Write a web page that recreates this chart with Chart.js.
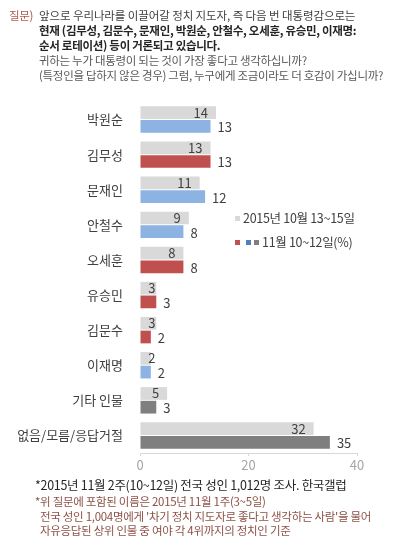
<!DOCTYPE html>
<html><head><meta charset="utf-8">
<script src="https://cdn.jsdelivr.net/npm/chart.js@4.4.0/dist/chart.umd.min.js"></script>
<style>
html,body{margin:0;padding:0;background:#fff;}
#wrap{position:relative;width:400px;height:556px;overflow:hidden;font-family:"Noto Sans CJK KR","Noto Sans",sans-serif;}
#c{position:absolute;left:0;top:0;}
.t{position:absolute;white-space:nowrap;font-size:11.5px;line-height:15px;letter-spacing:-0.3px;}
.sq{display:inline-block;width:5px;height:5px;margin-right:3px;vertical-align:middle;position:relative;top:-1px;}
</style></head><body>
<div id="wrap">
<canvas id="c" width="400" height="556"></canvas>
<div class="t" style="left:9px;top:8px;color:#b0564a;">질문)</div>
<div class="t" style="left:39px;top:8px;color:#404040;letter-spacing:-0.1px;">앞으로 우리나라를 이끌어갈 정치 지도자, 즉 다음 번 대통령감으로는</div>
<div class="t" style="left:39px;top:23px;color:#262626;font-weight:bold;">현재 (김무성, 김문수, 문재인, 박원순, 안철수, 오세훈, 유승민, 이재명:</div>
<div class="t" style="left:39px;top:38px;color:#262626;font-weight:bold;">순서 로테이션) 등이 거론되고 있습니다.</div>
<div class="t" style="left:39px;top:53px;color:#595959;">귀하는 누가 대통령이 되는 것이 가장 좋다고 생각하십니까?</div>
<div class="t" style="left:39px;top:68px;color:#595959;">(특정인을 답하지 않은 경우) 그럼, 누구에게 조금이라도 더 호감이 가십니까?</div>
<div class="t" style="left:235px;top:210px;color:#404040;font-size:12.5px;"><span class="sq" style="background:#d9d9d9"></span>2015년 10월 13~15일</div>
<div class="t" style="left:235px;top:234px;color:#404040;font-size:12.5px;"><span class="sq" style="background:#c0504d"></span><span class="sq" style="background:#4f81bd;margin-left:3px"></span><span class="sq" style="background:#7f7f7f"></span>11월 10~12일(%)</div>
<div class="t" style="left:35px;top:477px;color:#262626;font-size:12.5px;">*2015년 11월 2주(10~12일) 전국 성인 1,012명 조사. 한국갤럽</div>
<div class="t" style="left:35px;top:494px;color:#8c5248;">*위 질문에 포함된 이름은 2015년 11월 1주(3~5일)</div>
<div class="t" style="left:40px;top:509px;color:#8c5248;">전국 성인 1,004명에게 '차기 정치 지도자로 좋다고 생각하는 사람'을 물어</div>
<div class="t" style="left:40px;top:523px;color:#8c5248;">자유응답된 상위 인물 중 여야 각 4위까지의 정치인 기준</div>
</div>
<script>
const categories = ["박원순","김무성","문재인","안철수","오세훈","유승민","김문수","이재명","기타 인물","없음/모름/응답거절"];
const octValues = [14,13,11,9,8,3,3,2,5,32];
const novValues = [13,13,12,8,8,3,2,2,3,35];
const novColors = ["#8db3e2","#c0504d","#8db3e2","#8db3e2","#c0504d","#c0504d","#c0504d","#8db3e2","#7f7f7f","#7f7f7f"];
const xTicks = [0,20,40];

const labelPlugin = {
  id:'barLabels',
  afterDatasetsDraw(chart){
    const ctx = chart.ctx;
    ctx.save();
    ctx.font = '13px "Noto Sans CJK KR", sans-serif';
    ctx.fillStyle = '#404040';
    ctx.textBaseline = 'middle';
    chart.data.datasets.forEach((ds, di) => {
      const meta = chart.getDatasetMeta(di);
      meta.data.forEach((bar, i) => {
        const txt = String(ds.data[i]);
        const w = ctx.measureText(txt).width;
        ctx.textAlign = 'left';
        if (di === 0) {
          const right = Math.max(bar.x - 8, bar.base + 15);
          ctx.fillText(txt, right - w, bar.y);
        } else {
          ctx.fillText(txt, bar.x + 7, bar.y + 1);
        }
      });
    });
    ctx.restore();
  }
};

new Chart(document.getElementById('c'), {
  type:'bar',
  data:{
    labels: categories,
    datasets:[
      {label:'2015년 10월 13~15일', data: octValues, backgroundColor:'#d9d9d9', categoryPercentage:0.78, barPercentage:0.93},
      {label:'11월 10~12일(%)', data: novValues, backgroundColor: novColors, categoryPercentage:0.78, barPercentage:0.93}
    ]
  },
  options:{
    indexAxis:'y',
    responsive:false,
    animation:false,
    events:[],
    layout:{padding:{left:0,top:102,right:43,bottom:79}},
    plugins:{legend:{display:false},tooltip:{enabled:false}},
    scales:{
      x:{
        min:0,max:40,
        afterBuildTicks(s){ s.ticks = xTicks.map(v=>({value:v})); },
        afterFit(s){ s.height = 24; },
        grid:{drawOnChartArea:false, color:'#d9d9d9', tickLength:3},
        border:{color:'#d9d9d9'},
        ticks:{color:'#a6a6a6', font:{size:13, family:'"Noto Sans CJK KR", sans-serif'}, padding:1}
      },
      y:{
        afterFit(s){ s.width = 140; },
        grid:{display:false},
        border:{display:false},
        ticks:{color:'#404040', font:{size:13, family:'"Noto Sans CJK KR", sans-serif'}, padding:9}
      }
    }
  },
  plugins:[labelPlugin]
});
</script>
</body></html>
